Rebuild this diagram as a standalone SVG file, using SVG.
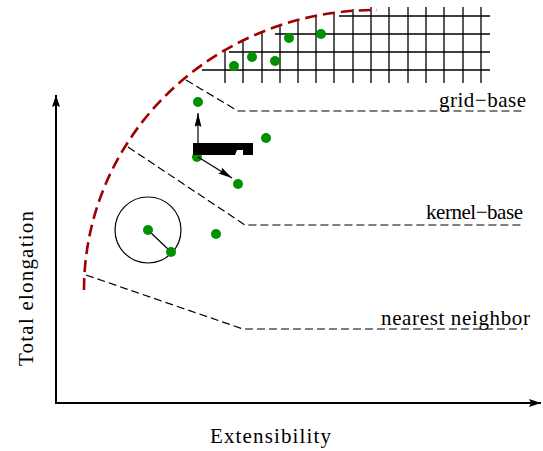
<svg xmlns="http://www.w3.org/2000/svg" width="543" height="451" viewBox="0 0 543 451">
<defs>
<style>
.txt{font-family:"Liberation Serif","Times New Roman",serif;font-size:21px;fill:#000}
.dash{fill:none;stroke:#000;stroke-width:1.2;stroke-dasharray:8,4}
.grid line{stroke:#000;stroke-width:1.3}
.dot{fill:#009000}
.ax{stroke:#000;stroke-width:2;fill:none}
</style>
<marker id="ah" viewBox="0 0 12 8" refX="12" refY="4" markerWidth="12" markerHeight="8" markerUnits="userSpaceOnUse" orient="auto">
<path d="M0,0 L12,4 L0,8 L2,4 Z" fill="#000"/>
</marker>
<marker id="ah2" viewBox="0 0 14 7" refX="14" refY="3.5" markerWidth="14" markerHeight="7" markerUnits="userSpaceOnUse" orient="auto">
<path d="M0,0 L14,3.5 L0,7 L2,3.5 Z" fill="#000"/>
</marker>
</defs>
<rect width="543" height="451" fill="#fff"/>

<g id="grid" class="grid">
<line x1="202" y1="70" x2="490" y2="70"/>
<line x1="229" y1="52" x2="490" y2="52"/>
<line x1="275" y1="34" x2="490" y2="34"/>
<line x1="339" y1="16" x2="490" y2="16"/>
<line x1="225" y1="49" x2="225" y2="83"/>
<line x1="243" y1="39" x2="243" y2="83"/>
<line x1="262" y1="31" x2="262" y2="83"/>
<line x1="280" y1="26" x2="280" y2="83"/>
<line x1="298" y1="20" x2="298" y2="83"/>
<line x1="316" y1="16" x2="316" y2="83"/>
<line x1="334" y1="12" x2="334" y2="83"/>
<line x1="353" y1="9" x2="353" y2="83"/>
<line x1="371" y1="7" x2="371" y2="83"/>
<line x1="389" y1="7" x2="389" y2="83"/>
<line x1="408" y1="7" x2="408" y2="83"/>
<line x1="426" y1="7" x2="426" y2="83"/>
<line x1="444" y1="7" x2="444" y2="83"/>
<line x1="463" y1="7" x2="463" y2="83"/>
<line x1="481" y1="7" x2="481" y2="83"/>
</g>

<g id="connectors">
<path class="dash" d="M186,80 L238,111 L522,111"/>
<path class="dash" d="M128,147 L245,225 L522,225"/>
<path class="dash" d="M86,275 L243,329 L523,329"/>
<path d="M84,290 A291,280 0 0 1 377,10" fill="none" stroke="#a00000" stroke-width="2.6" stroke-dasharray="12,6"/>
<line class="ax" x1="56" y1="403" x2="56" y2="95" marker-end="url(#ah)"/>
<line class="ax" x1="55" y1="403" x2="541" y2="403" marker-end="url(#ah)"/>
</g>

<g id="grid-dots">
<circle class="dot" cx="234" cy="66" r="5"/>
<circle class="dot" cx="252" cy="57" r="5"/>
<circle class="dot" cx="275" cy="61" r="5"/>
<circle class="dot" cx="289" cy="38" r="5"/>
<circle class="dot" cx="321" cy="34" r="5"/>
</g>

<g id="kernel">
<circle class="dot" cx="198" cy="102" r="5"/>
<circle class="dot" cx="197" cy="157" r="5"/>
<circle class="dot" cx="266" cy="138" r="5"/>
<circle class="dot" cx="238" cy="184" r="5"/>
<polygon points="193,143 253,143 253,155 243,155 243,150 237,150 235,155 193,155" fill="#000"/>
<line x1="198" y1="143" x2="198" y2="113" stroke="#000" stroke-width="1.2" marker-end="url(#ah2)"/>
<line x1="198" y1="157" x2="232" y2="178" stroke="#000" stroke-width="1.2" marker-end="url(#ah2)"/>
</g>

<g id="nearest">
<circle cx="148" cy="230" r="33" fill="none" stroke="#000" stroke-width="1.2"/>
<line x1="148" y1="230" x2="171" y2="252" stroke="#000" stroke-width="1.2"/>
<circle class="dot" cx="148" cy="230" r="5"/>
<circle class="dot" cx="171" cy="252" r="5"/>
<circle class="dot" cx="216" cy="234" r="5"/>
</g>

<g id="labels">
<text class="txt" x="439" y="107" textLength="87" lengthAdjust="spacing">grid−base</text>
<text class="txt" x="426" y="219" textLength="97" lengthAdjust="spacing">kernel−base</text>
<text class="txt" x="381" y="325" textLength="149" lengthAdjust="spacing">nearest neighbor</text>
<text class="txt" x="210" y="443" textLength="121" lengthAdjust="spacing">Extensibility</text>
<text class="txt" transform="translate(33,366) rotate(-90)" x="0" y="0" textLength="155" lengthAdjust="spacing">Total elongation</text>
</g>
</svg>
